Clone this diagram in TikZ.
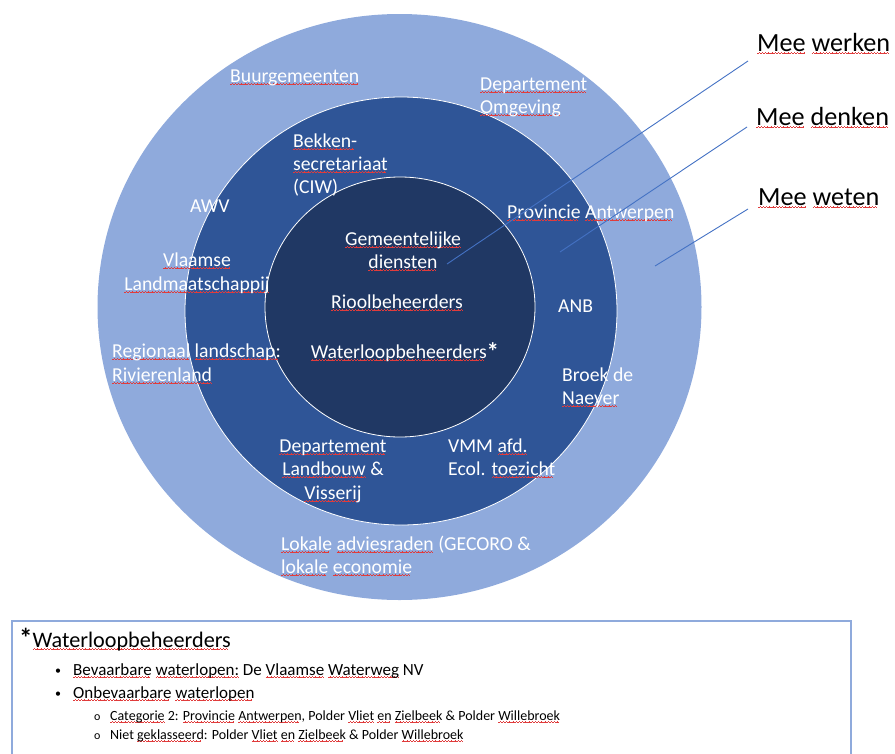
\documentclass[tikz,border=0pt]{standalone}
\usepackage{fontspec}
\setmainfont{Carlito}
\usepackage{xcolor}
\definecolor{ringout}{HTML}{8FAADC}
\definecolor{ringmid}{HTML}{2F5597}
\definecolor{ringin}{HTML}{203864}
\definecolor{leader}{HTML}{4472C4}
\definecolor{squig}{HTML}{E03C3C}
\definecolor{legframe}{HTML}{8FAADC}
\newbox\sqbox
\newcommand\wunit{\rule[0pt]{0.8pt}{0.7pt}\rule[0.55pt]{0.8pt}{0.7pt}\rule[1.1pt]{0.8pt}{0.7pt}\rule[0.55pt]{0.8pt}{0.7pt}}
\newcommand\sq[1]{\setbox\sqbox\hbox{#1}\rlap{\lower3pt\hbox to\wd\sqbox{\color{squig}\leaders\hbox{\wunit}\hfill}}\box\sqbox}
\tikzset{
  lbl/.style={inner sep=0pt, text=white, font=\fontsize{19.7}{23.5}\selectfont, anchor=base west},
  lblc/.style={lbl, anchor=base},
  mee/.style={inner sep=0pt, text=black, font=\fontsize{26.2}{30}\selectfont, anchor=base west},
  ring/.style={draw=white, line width=0.8pt},
  leadline/.style={draw=leader, line width=0.9pt},
  legtitle/.style={inner sep=0pt, text=black, font=\fontsize{22.2}{26}\selectfont, anchor=base west},
  legitem/.style={inner sep=0pt, text=black, font=\fontsize{17}{19}\selectfont, anchor=base west},
  legbullet/.style={inner sep=0pt, text=black, font=\fontsize{12}{14}\selectfont, anchor=base west},
  legsub/.style={inner sep=0pt, text=black, font=\fontsize{14}{16}\selectfont, anchor=base west},
}
\begin{document}
\begin{tikzpicture}[x=1pt,y=-1pt]
\useasboundingbox (0,0) rectangle (895,753);
% rings
\fill[ringout] (399.5,307) ellipse [x radius=302, y radius=293];
\draw[ring, fill=ringmid] (401,311) ellipse [x radius=216, y radius=214];
\draw[ring, fill=ringin] (400,307) ellipse [x radius=135, y radius=130];

% outer ring labels
\node[lbl] (buur) at (230,82) {\sq{Buurgemeenten}};
\node[lbl] (depo1) at (480,90) {\sq{Departement}};
\node[lbl] (depo2) at (480,113) {\sq{Omgeving}};
\node[lbl] (awv) at (190,212) {AWV};
\node[lblc] (vlm1) at (197,266) {\sq{Vlaamse}};
\node[lblc] (vlm2) at (197,290) {\sq{Landmaatschappij}};
\node[lbl] (reg1) at (112,357) {\sq{Regionaal} \sq{landschap:}};
\node[lbl] (reg2) at (112,381) {\sq{Rivierenland}};
\node[lbl] (lok1) at (281,550) {\sq{Lokale} \sq{adviesraden} (GECORO \&};
\node[lbl] (lok2) at (281,573) {\sq{lokale} \sq{economie}};

% middle ring labels
\node[lbl] (bek1) at (293,147) {\sq{Bekken-}};
\node[lbl] (bek2) at (293,170) {\sq{secretariaat}};
\node[lbl] (bek3) at (293,193) {(CIW)};
\node[lbl] (prov) at (507,218) {\sq{Provincie} \sq{Antwerpen}};
\node[lbl] (anb) at (558,312) {ANB};
\node[lbl] (broek1) at (562,381) {Broek de};
\node[lbl] (broek2) at (562,404) {\sq{Naeyer}};
\node[lblc] (dlv1) at (333,452) {\sq{Departement}};
\node[lblc] (dlv2) at (333,475) {\sq{Landbouw} \&};
\node[lblc] (dlv3) at (333,499) {\sq{Visserij}};
\node[lbl] (vmm1) at (448,452) {VMM \sq{afd.}};
\node[lbl] (vmm2) at (448,475) {Ecol. \sq{toezicht}};

% inner circle labels
\node[lblc] (gem1) at (403,245) {\sq{Gemeentelijke}};
\node[lblc] (gem2) at (403,268) {\sq{diensten}};
\node[lblc] (riool) at (397,308) {\sq{Rioolbeheerders}};
\node[lblc] (wlb) at (405,358) {\sq{Waterloopbeheerders}{\fontsize{25}{26}\selectfont\bfseries\raisebox{-2pt}{*}}};

% right-hand labels
\node[mee] (werken) at (757,51) {\sq{Mee} \sq{werken}};
\node[mee] (denken) at (756,125) {\sq{Mee} \sq{denken}};
\node[mee] (weten) at (758,205) {\sq{Mee} \sq{weten}};

% leader lines
\coordinate (w1) at (748,61);
\coordinate (w2) at (447,264);
\coordinate (d1) at (747,127);
\coordinate (d2) at (560,252);
\coordinate (t1) at (748,209);
\coordinate (t2) at (655,266);
\draw[leadline] (w1) -- (w2);
\draw[leadline] (d1) -- (d2);
\draw[leadline] (t1) -- (t2);

% legend box
\coordinate (lb1) at (12,755);
\coordinate (lb2) at (12,621);
\coordinate (lb3) at (851,621);
\coordinate (lb4) at (851,755);
\draw[legframe, line width=1.6pt] (lb1) -- (lb2) -- (lb3) -- (lb4);

\node[legtitle] (legt) at (19,647) {{\fontsize{27}{28}\selectfont\bfseries\raisebox{0pt}{*}}\sq{Waterloopbeheerders}};
\node[legbullet] (b1) at (55,674) {•};
\node[legitem] (i1) at (73,675) {\sq{Bevaarbare} \sq{waterlopen:} De \sq{Vlaamse} \sq{Waterweg} NV};
\node[legbullet] (b2) at (55,697) {•};
\node[legitem] (i2) at (73,698) {\sq{Onbevaarbare} \sq{waterlopen}};
\node[legbullet] (c1) at (94,720) {o};
\node[legsub] (s1) at (110,720) {\sq{Categorie} 2: \sq{Provincie} \sq{Antwerpen}, Polder \sq{Vliet} \sq{en} \sq{Zielbeek} \& Polder \sq{Willebroek}};
\node[legbullet] (c2) at (94,739) {o};
\node[legsub] (s2) at (110,739) {Niet \sq{geklasseerd}: Polder \sq{Vliet} \sq{en} \sq{Zielbeek} \& Polder \sq{Willebroek}};
\end{tikzpicture}
\end{document}
